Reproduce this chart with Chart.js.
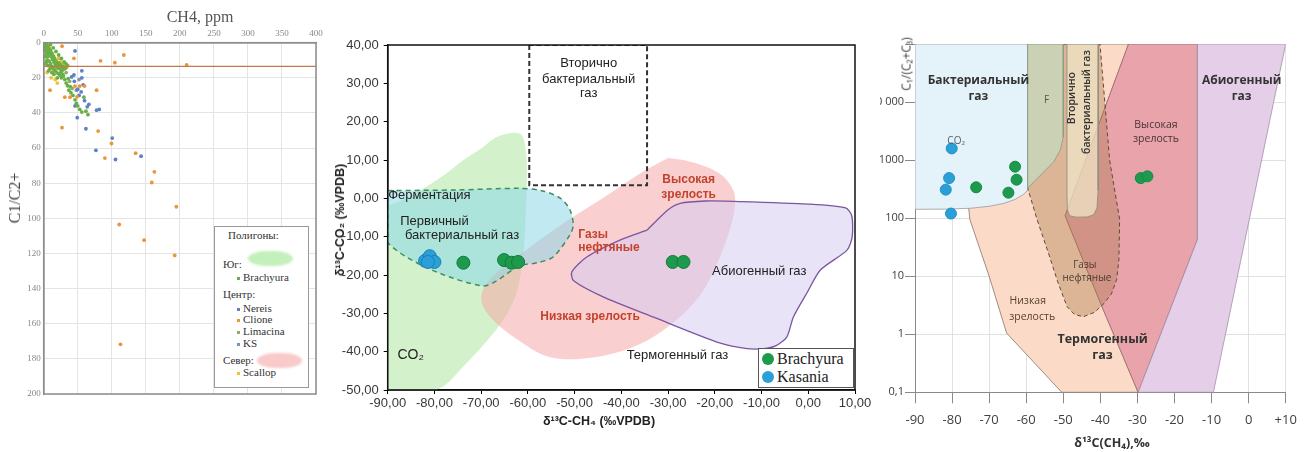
<!DOCTYPE html>
<html>
<head>
<meta charset="utf-8">
<script src="https://cdn.jsdelivr.net/npm/chart.js@4.4.1/dist/chart.umd.min.js"></script>
<style>
  body { margin:0; background:#fff; width:1310px; height:452px; overflow:hidden; position:relative; }
  .panel { position:absolute; top:0; height:452px; overflow:hidden; }
  canvas { position:absolute; top:0; }
  .t { position:absolute; white-space:nowrap; line-height:1; }
  .rot { transform:translate(-50%,-50%) rotate(-90deg); }
  .ctr { transform:translate(-50%,-50%); }
</style>
</head>
<body>

<!-- Panel 1: C1/C2+ vs CH4 -->
<div class="panel" style="left:0;width:330px;">
  <canvas id="c1" width="330" height="452" style="left:0"></canvas>
  <div class="t ctr" style="left:200px;top:17px;font:16px 'Liberation Serif',serif;color:#555;">CH4, ppm</div>
  <div class="t rot" style="left:15px;top:198px;font:16px 'Liberation Serif',serif;color:#444;">C1/C2+</div>
  <div id="leg1" style="position:absolute;left:214px;top:226px;width:93px;height:160px;border:1px solid #999;background:#fff;font:11px 'Liberation Serif',serif;color:#333;"></div>
</div>

<!-- Panel 2: δ13C-CO2 vs δ13C-CH4 -->
<div class="panel" style="left:330px;width:545px;">
  <canvas id="c2" width="545" height="452" style="left:0"></canvas>
  <div class="t rot" style="left:10px;top:220px;font:bold 12.5px 'Liberation Sans',Arial,sans-serif;color:#222;">δ¹³C-CO₂ (‰VPDB)</div>
  <div class="t ctr" style="left:269px;top:421px;font:bold 12.5px 'Liberation Sans',Arial,sans-serif;color:#222;">δ¹³C-CH₄ (‰VPDB)</div>
  <div id="leg2" style="position:absolute;left:428px;top:348px;width:94px;height:38px;border:1px solid #555;background:#fff;font:16px 'Liberation Serif',serif;color:#222;"></div>
</div>

<!-- Panel 3: C1/(C2+C3) vs δ13C(CH4) -->
<div class="panel" style="left:880px;width:430px;">
  <canvas id="c3" width="470" height="452" style="left:-40px"></canvas>
  <div class="t rot" style="left:26px;top:64px;font:12px 'Open Sans',sans-serif;color:#444;">C₁/(C₂+C₃)</div>
  <div class="t ctr" style="left:232px;top:442px;font:bold 12.5px 'Open Sans',sans-serif;color:#333;">δ¹³C(CH₄),‰</div>
</div>

<script>
// ---------- Panel 1 data: CH4 (ppm), C1/C2+ ----------
const brachyuraPpm = [[1,0.5],[2,1.5],[1,3],[3,2.5],[4,1],[2.5,4.5],[5,3.5],[6,2],[4,6],[7,5],[3,7.5],[8,3.5],[6,8],[9,6.5],[10,4.5],[5,10],[11,8],[8,10.5],[12,6],[13,9.5],[10,12],[14,7.5],[15,11],[12,13.5],[16,9],[17,12.5],[14,14.5],[18,10.5],[19,13.5],[20,12],[16,15.5],[21,14.5],[22,11.5],[23,13],[24,15],[18,16.5],[25,12.5],[26,14],[27,16],[21,17.5],[28,13.5],[30,15],[24,18.5],[32,14.5],[26,20],[29,19],[31,21],[33,23],[35,24.5],[37,27],[40,28.5],[43,30],[46,32.5],[48,34.5],[50,36],[53,38],[56,39.5],[59,31],[62,39],[65,41],[36,20.5],[39,25],[2,8],[4,11],[6,13],[9,15],[3,12],[7,16],[12,17],[15,18],[20,20],[10,1],[14,3],[18,5],[22,7],[26,9],[30,11],[33,12],[35,13],[25,17],[28,18],[11,14],[8,6]];
const nereisPpm = [[46,4.7],[56,16],[56,20],[44.4,18.4],[62,49],[100.6,54.3],[76.7,61.3],[143,64.6],[105.5,66.5],[77.7,38.4],[81.6,38],[49.3,42.7],[46,36],[66.4,35.1],[64,36.5],[55,28],[50,26.5],[58,24],[45,22],[41,19.5],[52,30],[60,33]];
const clionePpm = [[27,2],[44.4,8.9],[83.5,10.3],[117.7,7],[104.5,11.4],[210,12.7],[9.3,27],[26.9,48.4],[80,50.3],[99.6,57.4],[135,62.9],[89.9,65.7],[162.6,73.5],[158.7,79.6],[194.9,93.4],[110.9,103.5],[147.5,112.4],[192.4,121.1],[112.8,171.7],[77.7,27],[31,31],[38.6,31],[49,30.8],[46,24.7],[53,24.7],[60,24.7]];
const limacinaPpm = [[33,17],[38,22],[42,26]];
const ksPpm = [[48,27],[52,21]];
const scallopPpm = [[1,1],[3,4],[6,1.5],[9,3],[12,6],[15,8],[18,10],[22,9],[25,11],[28,12],[31,13],[34,14],[8,13],[14,16],[5,17],[11,20],[17,21],[20,23]];
const ratioLimit = 13.5;
const ppmTicks = [0,50,100,150,200,250,300,350,400];
const ratioTicks = [0,20,40,60,80,100,120,140,160,180,200];

// ---------- Panel 2 data: δ13C-CH4, δ13C-CO2 (‰VPDB) ----------
const brachyuraCH4 = [-73.8, -65.1, -63.5, -62.1, -29.0, -26.7];
const brachyuraCO2 = [-16.8, -16.1, -16.8, -16.6, -16.6, -16.6];
const kasaniaCH4 = [-82.0, -81.0, -80.0, -81.4];
const kasaniaCO2 = [-16.3, -15.1, -16.6, -16.6];

// genetic fields, [δ13C-CH4, δ13C-CO2]
const fieldCO2 = [[-90,-2],[-86,0],[-83,2.1],[-78,6],[-73.8,10],[-70,13],[-66.7,16],[-63.2,17.1],[-61.3,16.5],[-60.4,12],[-60.2,5],[-60.5,-5],[-61,-15],[-62.5,-25],[-66,-33],[-73.8,-43.9],[-79.5,-50],[-90,-50]];
const fieldFermentation = [[-90,2],[-75,2.2],[-62,2.6],[-57,2],[-53,0],[-51,-3],[-50.3,-7],[-51,-9.5],[-54.6,-15.3],[-58,-16.8],[-61.7,-17.6],[-70,-22.8],[-90,-11.6]];
const fieldThermogenic = [[-30,10.5],[-25,9.5],[-19,6.5],[-16,2],[-15.8,-3],[-17,-9],[-19.5,-17],[-23,-25],[-28.5,-32],[-36,-38],[-45,-41.3],[-55,-41.5],[-62,-37],[-68,-31],[-70,-26],[-68,-21],[-62,-15],[-53,-7],[-44,0],[-36,6.5]];
const fieldAbiogenic = [[-34.5,-8.3],[-30,-3],[-27.4,-1.3],[-22,-0.7],[-16,-0.8],[0,-1.5],[8,-2.5],[9.3,-4.5],[9.4,-10],[8.3,-13.5],[2.6,-18.7],[-0.3,-24.7],[-3.2,-31],[-4.6,-36.2],[-7,-38.5],[-9.6,-39.2],[-13.1,-39.2],[-18.8,-37.8],[-33.1,-31],[-43.9,-25.7],[-50.2,-21.5],[-50.6,-19.2],[-47.4,-15.3],[-40.3,-10.9]];
const fieldSecondary = [[-59.7,40],[-59.7,3.4],[-34.5,3.4],[-34.5,40]];

// ---------- Panel 3 data: δ13C(CH4), C1/(C2+C3) ----------
const brachyuraCH4b = [-73.5, -64.8, -63.0, -62.6, -29.1, -27.3];
const brachyuraRatio = [340, 275, 770, 460, 490, 525];
const kasaniaCH4b = [-80.1, -80.8, -81.7, -80.3];
const kasaniaRatio = [1590, 490, 310, 120];
const ratioDecades = [0.1, 1, 10, 100, 1000, 10000, 100000];
const ratioDecadeLabels = ['0,1', '1', '10', '100', '1000', '10 000', ''];

// genetic fields, [δ13C(CH4), C1/(C2+C3)]
const zoneLowMaturity = [[-77,100000],[-77,2000],[-76,300],[-75.2,95],[-70,10],[-65.3,1.05],[-50.4,0.1],[-29.8,0.1],[-40,3.5],[-49.5,110],[-32.4,100000]];
const zoneHighMaturity = [[-32.4,100000],[-13.8,100000],[-13.8,43],[-29.8,0.1],[-40,3.5],[-49.5,110]];
const zoneAbiogenic = [[-13.8,100000],[10,100000],[-9.5,0.1],[-29.8,0.1],[-13.8,43]];
const zoneOil = [[-59.6,100000],[-40.1,100000],[-37.5,1000],[-34.8,96],[-35.0,19],[-35.6,8.8],[-37,5],[-39,3.4],[-41.5,2.4],[-44.6,2.0],[-47,2.2],[-49,3],[-51.5,8],[-54,25],[-57.2,100],[-59.6,330]];
const zoneBacterial = [[-90,100000],[-59.6,100000],[-59.6,300],[-61,250],[-63,210],[-66,180],[-70,160],[-75,148],[-82,143],[-90,142]];
const zoneFermentation = [[-59.6,100000],[-50,100000],[-50,2500],[-50.8,1500],[-52.5,950],[-55,650],[-57.5,450],[-59.6,330]];
const zoneSecondary = [[-49,100000],[-40.5,100000],[-40.6,300],[-40.9,150],[-41.8,115],[-43.5,105],[-46.5,104],[-48.3,110],[-48.9,140],[-49,250]];

// ---------- helpers ----------
const xy = (pairs) => pairs.map(p => ({x: p[0], y: p[1]}));
const zipXY = (xs, ys) => xs.map((x, i) => ({x, y: ys[i]}));

function shape(pts, style) {
  const data = xy(pts);
  data.push({x: pts[0][0], y: pts[0][1]});
  return Object.assign({type: 'line', data, pointRadius: 0, fill: 'shape', borderWidth: 1, tension: 0}, style);
}

// Draws text at data coordinates through the chart's scales
const labelPlugin = {
  id: 'fieldLabels',
  afterDatasetsDraw(chart, args, opts) {
    const {ctx, scales} = chart;
    (opts.items || []).forEach(it => {
      ctx.save();
      ctx.font = it.font;
      ctx.fillStyle = it.color || '#222';
      ctx.textAlign = it.align || 'center';
      ctx.textBaseline = 'middle';
      ctx.translate(scales.x.getPixelForValue(it.x), scales.y.getPixelForValue(it.y));
      if (it.rotate) ctx.rotate(it.rotate);
      ctx.fillText(it.text, 0, 0);
      ctx.restore();
    });
  }
};

// Frame around the plotting area
const framePlugin = {
  id: 'frame',
  afterDraw(chart, args, o) {
    if (!o.color) return;
    const {ctx, chartArea: c} = chart;
    ctx.save();
    ctx.strokeStyle = o.color;
    ctx.lineWidth = o.width || 1;
    ctx.strokeRect(c.left, c.top, c.right - c.left, c.bottom - c.top);
    ctx.restore();
  }
};

Chart.defaults.animation = false;
Chart.defaults.responsive = false;
Chart.defaults.plugins.legend.display = false;
Chart.defaults.plugins.tooltip.enabled = false;

// ---------- Panel 1 ----------
(function () {
  const W = 330, H = 452, area = {left: 43.7, top: 42.7, right: 316, bottom: 394};
  const serif = "'Liberation Serif', serif";
  const dots = (pairs, color, order) => ({data: xy(pairs), backgroundColor: color, borderColor: color, pointRadius: 1.9, borderWidth: 0, order});
  new Chart(document.getElementById('c1'), {
    type: 'scatter',
    data: {
      datasets: [
        {type: 'line', data: [{x: 0, y: ratioLimit}, {x: 400, y: ratioLimit}], borderColor: '#c4784c', borderWidth: 1.3, pointRadius: 0, order: 0},
        dots(clionePpm, '#e8963a', 3),
        dots(nereisPpm, '#5a83c2', 4),
        dots(scallopPpm, '#f0c132', 2),
        dots(limacinaPpm, '#8fae6a', 5),
        dots(ksPpm, '#7d95b5', 6),
        dots(brachyuraPpm, '#6aae46', 1)
      ]
    },
    options: {
      layout: {padding: {left: 0, top: 0, right: W - area.right, bottom: H - area.bottom}},
      scales: {
        x: {type: 'linear', position: 'top', min: 0, max: 400,
            afterBuildTicks: s => { s.ticks = ppmTicks.map(v => ({value: v})); },
            ticks: {font: {family: serif, size: 9}, color: '#888', padding: 4},
            grid: {color: '#e4e4e4', drawTicks: false}, border: {color: '#8c8c8c', width: 1.5},
            afterFit: s => { s.height = area.top; }},
        y: {type: 'linear', min: 0, max: 200, reverse: true,
            afterBuildTicks: s => { s.ticks = ratioTicks.map(v => ({value: v})); },
            ticks: {font: {family: serif, size: 9}, color: '#888', padding: 3},
            grid: {color: '#e4e4e4', drawTicks: false}, border: {color: '#8c8c8c', width: 1.5},
            afterFit: s => { s.width = area.left; }}
      },
      plugins: {frame: {color: '#8c8c8c', width: 1.5}}
    },
    plugins: [framePlugin]
  });

  const leg = document.getElementById('leg1');
  const rows = [
    {t: 'Полигоны:', y: 9, x: 13},
    {t: 'Юг:', y: 38, x: 8, blob: 'rgba(190,238,180,0.9)', bx: 33, by: 24, bw: 45, bh: 15},
    {t: 'Brachyura', y: 51, x: 28, dot: '#6aae46'},
    {t: 'Центр:', y: 68, x: 8},
    {t: 'Nereis', y: 82, x: 28, dot: '#5a83c2'},
    {t: 'Clione', y: 93, x: 28, dot: '#e8963a'},
    {t: 'Limacina', y: 105, x: 28, dot: '#8fae6a'},
    {t: 'KS', y: 117, x: 28, dot: '#7d95b5'},
    {t: 'Север:', y: 134, x: 8, blob: 'rgba(248,196,196,0.9)', bx: 42, by: 126, bw: 45, bh: 15},
    {t: 'Scallop', y: 146, x: 28, dot: '#f0c132'}
  ];
  rows.forEach(r => {
    const d = document.createElement('div');
    d.className = 't';
    d.style.left = r.x + 'px';
    d.style.top = (r.y - 6) + 'px';
    d.textContent = r.t;
    leg.appendChild(d);
    if (r.dot) {
      const b = document.createElement('div');
      b.style.cssText = `position:absolute;left:${r.x - 6}px;top:${r.y - 1.5}px;width:3px;height:3px;background:${r.dot};`;
      leg.appendChild(b);
    }
    if (r.blob) {
      const b = document.createElement('div');
      b.style.cssText = `position:absolute;left:${r.bx}px;top:${r.by}px;width:${r.bw}px;height:${r.bh}px;border-radius:50%/60%;background:${r.blob};filter:blur(1px);`;
      leg.appendChild(b);
    }
  });
})();

// ---------- Panel 2 ----------
(function () {
  const W = 545, H = 452, area = {left: 57.7, top: 45, right: 525, bottom: 390};
  const sans = "'Liberation Sans', Arial, sans-serif";
  const fmt = v => v.toFixed(2).replace('.', ',');
  new Chart(document.getElementById('c2'), {
    type: 'scatter',
    data: {
      datasets: [
        {data: zipXY(kasaniaCH4, kasaniaCO2), backgroundColor: '#2b9fd8', borderColor: '#1b7fb4', borderWidth: 1, pointRadius: 6.5, order: 0},
        {data: zipXY(brachyuraCH4, brachyuraCO2), backgroundColor: '#1d9a4e', borderColor: '#137a3a', borderWidth: 1, pointRadius: 6.5, order: 1},
        shape(fieldSecondary, {fill: false, borderColor: '#333', borderWidth: 2, borderDash: [5, 3], order: 2}),
        shape(fieldFermentation, {backgroundColor: 'rgba(140,215,232,0.55)', borderColor: '#3f8f5e', borderWidth: 1.5, borderDash: [5, 4], tension: 0.3, order: 3}),
        shape(fieldAbiogenic, {backgroundColor: 'rgba(214,204,240,0.55)', borderColor: '#7a55a0', borderWidth: 1.3, tension: 0.25, order: 4}),
        shape(fieldThermogenic, {backgroundColor: 'rgba(245,168,168,0.55)', borderColor: 'rgba(0,0,0,0)', borderWidth: 0, tension: 0.35, order: 5}),
        shape(fieldCO2, {backgroundColor: 'rgba(196,238,186,0.75)', borderColor: 'rgba(0,0,0,0)', borderWidth: 0, tension: 0.3, order: 6})
      ]
    },
    options: {
      layout: {padding: {left: 0, top: area.top, right: W - area.right, bottom: 0}},
      scales: {
        x: {type: 'linear', min: -90, max: 10,
            ticks: {stepSize: 10, callback: fmt, font: {family: sans, size: 13}, color: '#383838', padding: 2, maxRotation: 0},
            grid: {display: true, drawOnChartArea: false, tickLength: 4, tickColor: '#000'},
            border: {color: '#000', width: 1.5},
            afterFit: s => { s.height = H - area.bottom; }},
        y: {type: 'linear', min: -50, max: 40,
            ticks: {stepSize: 10, callback: fmt, font: {family: sans, size: 13}, color: '#383838', padding: 5},
            grid: {display: true, drawOnChartArea: false, tickLength: 4, tickColor: '#000'},
            border: {color: '#000', width: 1.5},
            afterFit: s => { s.width = area.left; }}
      },
      plugins: {
        frame: {color: '#111', width: 1.5},
        fieldLabels: {items: [
          {text: 'Вторично', x: -47, y: 35.2, font: `13px ${sans}`, color: '#222'},
          {text: 'бактериальный', x: -47, y: 31.0, font: `13px ${sans}`, color: '#222'},
          {text: 'газ', x: -47, y: 27.3, font: `13px ${sans}`, color: '#222'},
          {text: 'Ферментация', x: -89.9, y: 0.7, align: 'left', font: `13px ${sans}`, color: '#222'},
          {text: 'Первичный', x: -80.0, y: -6.1, font: `13px ${sans}`, color: '#222'},
          {text: 'бактериальный газ', x: -74.1, y: -9.8, font: `13px ${sans}`, color: '#222'},
          {text: 'Высокая', x: -25.6, y: 4.8, font: `bold 12px ${sans}`, color: '#c2432e'},
          {text: 'зрелость', x: -25.6, y: 0.9, font: `bold 12px ${sans}`, color: '#c2432e'},
          {text: 'Газы', x: -49.2, y: -9.6, align: 'left', font: `bold 12px ${sans}`, color: '#c2432e'},
          {text: 'нефтяные', x: -49.2, y: -13.0, align: 'left', font: `bold 12px ${sans}`, color: '#c2432e'},
          {text: 'Низкая зрелость', x: -46.7, y: -31.0, font: `bold 12px ${sans}`, color: '#c2432e'},
          {text: 'Абиогенный газ', x: -10.5, y: -19.1, font: `13px ${sans}`, color: '#222'},
          {text: 'Термогенный газ', x: -28.0, y: -41.1, font: `13px ${sans}`, color: '#222'},
          {text: 'CO₂', x: -85.1, y: -40.9, font: `14px ${sans}`, color: '#222'}
        ]}
      }
    },
    plugins: [labelPlugin, framePlugin]
  });

  const leg = document.getElementById('leg2');
  [['Brachyura', '#1d9a4e', 3], ['Kasania', '#2b9fd8', 21]].forEach(([name, col, top]) => {
    const c = document.createElement('div');
    c.style.cssText = `position:absolute;left:3px;top:${top + 1}px;width:12px;height:12px;border-radius:50%;background:${col};`;
    leg.appendChild(c);
    const t = document.createElement('div');
    t.className = 't';
    t.style.cssText = `left:18px;top:${top - 1}px;`;
    t.textContent = name;
    leg.appendChild(t);
  });
})();

// ---------- Panel 3 ----------
(function () {
  const W = 470, H = 452, area = {left: 75, top: 44, right: 445.7, bottom: 392.3};
  const os = "'Open Sans', sans-serif";
  const edge = '#9a9a9a';
  new Chart(document.getElementById('c3'), {
    type: 'scatter',
    data: {
      datasets: [
        {data: zipXY(kasaniaCH4b, kasaniaRatio), backgroundColor: '#2b9fd8', borderColor: '#2390c8', borderWidth: 1, pointRadius: 5.5, order: 0},
        {data: zipXY(brachyuraCH4b, brachyuraRatio), backgroundColor: '#1d9a4e', borderColor: '#178a44', borderWidth: 1, pointRadius: 5.5, order: 1},
        shape(zoneSecondary, {backgroundColor: 'rgba(240,232,200,0.72)', borderColor: '#8a8a80', borderWidth: 0.8, order: 2}),
        shape(zoneFermentation, {backgroundColor: 'rgba(200,212,182,0.92)', borderColor: '#8a9a80', borderWidth: 0.8, order: 3}),
        shape(zoneBacterial, {backgroundColor: 'rgb(228,243,250)', borderColor: edge, borderWidth: 0.8, order: 4}),
        shape(zoneOil, {backgroundColor: 'rgba(170,120,70,0.38)', borderColor: '#5e4a3a', borderWidth: 1, borderDash: [4, 3], order: 5}),
        shape(zoneAbiogenic, {backgroundColor: 'rgb(228,206,232)', borderColor: '#a58fab', borderWidth: 0.8, order: 6}),
        shape(zoneHighMaturity, {backgroundColor: 'rgb(233,163,171)', borderColor: '#9c6a72', borderWidth: 0.8, order: 7}),
        shape(zoneLowMaturity, {backgroundColor: 'rgb(251,218,200)', borderColor: '#8a7264', borderWidth: 0.8, order: 8})
      ]
    },
    options: {
      layout: {padding: {left: 0, top: area.top, right: W - area.right, bottom: 0}},
      scales: {
        x: {type: 'linear', min: -90, max: 10, z: 1,
            ticks: {stepSize: 10, callback: v => (v > 0 ? '+' + v : String(v)), font: {family: os, size: 13}, color: '#404040', padding: 9, maxRotation: 0},
            grid: {color: 'rgba(215,215,215,0.75)', tickLength: 11, tickColor: '#8a8a8a'},
            border: {color: '#8a8a8a', width: 1},
            afterFit: s => { s.height = H - area.bottom; }},
        y: {type: 'logarithmic', min: 0.1, max: 100000, z: 1,
            afterBuildTicks: s => { s.ticks = ratioDecades.map(v => ({value: v})); },
            ticks: {callback: (v) => ratioDecadeLabels[ratioDecades.indexOf(v)] ?? '', font: {family: os, size: 11}, color: '#404040', padding: 1},
            grid: {color: 'rgba(215,215,215,0.75)', tickLength: 10, tickColor: '#8a8a8a'},
            border: {color: '#8a8a8a', width: 1},
            afterFit: s => { s.width = area.left; }}
      },
      plugins: {
        fieldLabels: {items: [
          {text: 'Бактериальный', x: -72.9, y: 23400, font: `bold 12px ${os}`, color: '#333'},
          {text: 'газ', x: -72.9, y: 12300, font: `bold 12px ${os}`, color: '#333'},
          {text: 'F', x: -54.5, y: 10700, font: `10px ${os}`, color: '#555'},
          {text: 'CO₂', x: -78.9, y: 2140, font: `10px ${os}`, color: '#4d5d70'},
          {text: 'Вторично', x: -47.7, y: 11700, rotate: -Math.PI / 2, font: `600 10.5px ${os}`, color: '#333'},
          {text: 'бактериальный газ', x: -43.5, y: 10000, rotate: -Math.PI / 2, font: `600 10.5px ${os}`, color: '#333'},
          {text: 'Высокая', x: -25, y: 4070, font: `10.5px ${os}`, color: '#4a3434'},
          {text: 'зрелость', x: -25, y: 2340, font: `10.5px ${os}`, color: '#4a3434'},
          {text: 'Абиогенный', x: -1.9, y: 23400, font: `bold 12px ${os}`, color: '#333'},
          {text: 'газ', x: -1.9, y: 12300, font: `bold 12px ${os}`, color: '#333'},
          {text: 'Газы', x: -44.2, y: 15.8, font: `10px ${os}`, color: '#4a3a30'},
          {text: 'нефтяные', x: -43.6, y: 9.1, font: `10px ${os}`, color: '#4a3a30'},
          {text: 'Низкая', x: -59.6, y: 3.7, font: `10.5px ${os}`, color: '#5a4030'},
          {text: 'зрелость', x: -58.4, y: 1.95, font: `10.5px ${os}`, color: '#5a4030'},
          {text: 'Термогенный', x: -39.4, y: 0.83, font: `bold 12.5px ${os}`, color: '#333'},
          {text: 'газ', x: -39.4, y: 0.43, font: `bold 12.5px ${os}`, color: '#333'}
        ]}
      }
    },
    plugins: [labelPlugin]
  });
})();
</script>
</body>
</html>
